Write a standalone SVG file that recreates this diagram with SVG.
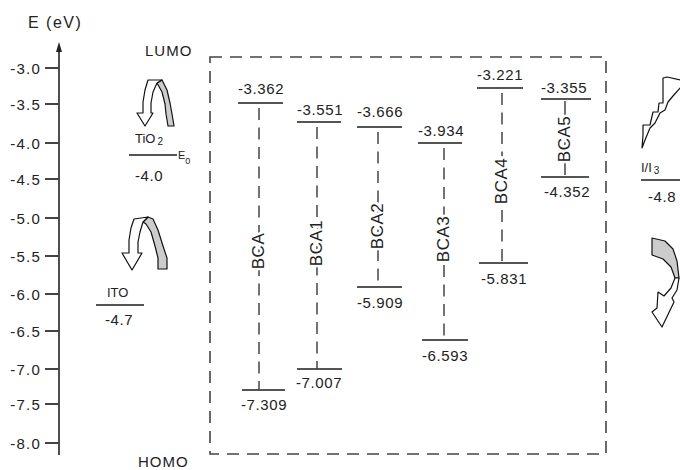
<svg xmlns="http://www.w3.org/2000/svg" width="680" height="470" viewBox="0 0 680 470">
<style>
  text { font-family: "Liberation Sans", Arial, sans-serif; fill: #222; }
  .ax { font-size: 15px; letter-spacing: 1.2px; text-anchor: end; }
  .num { font-size: 15px; letter-spacing: 0.6px; }
  .big { font-size: 15px; letter-spacing: 1px; }
  .lbl { font-size: 17px; letter-spacing: 0.5px; text-anchor: middle; dominant-baseline: central; stroke: #fff; stroke-width: 5px; paint-order: stroke; }
  .sm { font-size: 13px; }
  .tick { stroke: #444; stroke-width: 2; }
  .lvl { stroke: #555; stroke-width: 2; }
  .dv { stroke: #444; stroke-width: 1.5; stroke-dasharray: 12 7.5; fill: none; }
  .box { stroke: #444; stroke-width: 1.6; stroke-dasharray: 12 8; fill: none; }
  .wa { fill: #fff; stroke: #111; stroke-width: 1.2; stroke-linejoin: round; }
  .ga { fill: #ccc; stroke: #111; stroke-width: 1.2; stroke-linejoin: round; }
</style>

<g id="axis">
  <text x="28" y="28" style="font-size:16px;letter-spacing:1.5px">E (eV)</text>
  <line x1="59" y1="47" x2="59" y2="455" stroke="#222" stroke-width="1.6"/>
  <polygon points="59,42 56,52 62,52" fill="#222"/>
  <g class="tick">
    <line x1="45" y1="68" x2="59" y2="68"/>
    <line x1="45" y1="104" x2="59" y2="104"/>
    <line x1="45" y1="143" x2="59" y2="143"/>
    <line x1="45" y1="179" x2="59" y2="179"/>
    <line x1="45" y1="218" x2="59" y2="218"/>
    <line x1="45" y1="256" x2="59" y2="256"/>
    <line x1="45" y1="294" x2="59" y2="294"/>
    <line x1="45" y1="331" x2="59" y2="331"/>
    <line x1="45" y1="369" x2="59" y2="369"/>
    <line x1="45" y1="404" x2="59" y2="404"/>
    <line x1="45" y1="443" x2="59" y2="443"/>
  </g>
  <text class="ax" x="41" y="74">-3.0</text>
  <text class="ax" x="41" y="110">-3.5</text>
  <text class="ax" x="41" y="149">-4.0</text>
  <text class="ax" x="41" y="185">-4.5</text>
  <text class="ax" x="41" y="224">-5.0</text>
  <text class="ax" x="41" y="262">-5.5</text>
  <text class="ax" x="41" y="300">-6.0</text>
  <text class="ax" x="41" y="337">-6.5</text>
  <text class="ax" x="41" y="375">-7.0</text>
  <text class="ax" x="41" y="410">-7.5</text>
  <text class="ax" x="41" y="449">-8.0</text>
</g>

<g id="lumo"><text class="big" x="145" y="56">LUMO</text></g>
<g id="homo"><text class="big" x="138" y="467">HOMO</text></g>

<g id="tio2">
  <text class="sm" x="135" y="143">TiO<tspan font-size="10" dy="2" dx="2">2</tspan></text>
  <line class="lvl" x1="129" y1="155" x2="177" y2="155"/>
  <text x="178" y="159" font-size="11">E<tspan font-size="9" dy="5">0</tspan></text>
  <text class="num" x="135" y="181">-4.0</text>
</g>

<g id="ito">
  <text class="sm" x="107" y="297">ITO</text>
  <line class="lvl" x1="96" y1="305" x2="144" y2="305"/>
  <text class="num" x="105" y="325">-4.7</text>
</g>

<g id="redox">
  <text class="sm" x="641" y="172">I/I<tspan font-size="10" dy="2" dx="2">3</tspan></text>
  <line class="lvl" x1="641" y1="180" x2="680" y2="180"/>
  <text class="num" x="648" y="202">-4.8</text>
</g>

<g id="box">
  <rect class="box" x="210" y="57" width="396" height="397"/>
</g>

<g id="bca">
  <line class="lvl" x1="238" y1="103" x2="283" y2="103"/>
  <line class="lvl" x1="242" y1="390" x2="285" y2="390"/>
  <line class="dv" x1="259" y1="108" x2="259" y2="390"/>
  <text class="num" x="238" y="94">-3.362</text>
  <text class="num" x="241" y="410">-7.309</text>
  <text class="lbl" transform="translate(258,251) rotate(-90)">BCA</text>
</g>

<g id="bca1">
  <line class="lvl" x1="297" y1="122" x2="341" y2="122"/>
  <line class="lvl" x1="297" y1="369" x2="342" y2="369"/>
  <line class="dv" x1="317" y1="127" x2="317" y2="369"/>
  <text class="num" x="297" y="115">-3.551</text>
  <text class="num" x="296" y="388">-7.007</text>
  <text class="lbl" transform="translate(316,243) rotate(-90)">BCA1</text>
</g>

<g id="bca2">
  <line class="lvl" x1="357" y1="127" x2="402" y2="127"/>
  <line class="lvl" x1="357" y1="287" x2="402" y2="287"/>
  <line class="dv" x1="378" y1="132" x2="378" y2="287"/>
  <text class="num" x="357" y="117">-3.666</text>
  <text class="num" x="357" y="308">-5.909</text>
  <text class="lbl" transform="translate(377,226) rotate(-90)">BCA2</text>
</g>

<g id="bca3">
  <line class="lvl" x1="418" y1="143" x2="462" y2="143"/>
  <line class="lvl" x1="422" y1="340" x2="468" y2="340"/>
  <line class="dv" x1="444" y1="148" x2="444" y2="340"/>
  <text class="num" x="418" y="136">-3.934</text>
  <text class="num" x="422" y="361">-6.593</text>
  <text class="lbl" transform="translate(443,239) rotate(-90)">BCA3</text>
</g>

<g id="bca4">
  <line class="lvl" x1="477" y1="88" x2="523" y2="88"/>
  <line class="lvl" x1="479" y1="263" x2="528" y2="263"/>
  <line class="dv" x1="502" y1="93" x2="502" y2="263"/>
  <text class="num" x="477" y="80">-3.221</text>
  <text class="num" x="481" y="284">-5.831</text>
  <text class="lbl" transform="translate(501,181) rotate(-90)">BCA4</text>
</g>

<g id="bca5">
  <line class="lvl" x1="541" y1="99" x2="591" y2="99"/>
  <line class="lvl" x1="541" y1="177" x2="589" y2="177"/>
  <line x1="565" y1="101" x2="565" y2="175" stroke="#444" stroke-width="1.5"/>
  <text class="num" x="541" y="93">-3.355</text>
  <text class="num" x="544" y="197">-4.352</text>
  <text class="lbl" transform="translate(564,139) rotate(-90)">BCA5</text>
</g>

<g id="connectors">
  <polygon class="ga" points="157,83 162,80 167,90 170,103 172,114 174,126 168,126 166,114 165,104 162,92"/>
  <polygon class="wa" points="148,80 162,80 157,83 153,92 151,103 151,113 153,113 145,126 137,113 143,113 143,102 145,90"/>
  <polygon class="ga" points="143,222 148,217 153,219 158,230 163,246 167,258 167,269 158,269 158,258 155,246 151,232 146,224"/>
  <polygon class="wa" points="134,219 148,217 143,222 140,232 138,242 138,253 142,253 132,270 122,253 129,253 129,240 131,228"/>
  <polygon class="wa" points="642,148 643,135 643,125 650,125 653,112 658,112 659,103 663,103 663,90 663,78 667,77 681,80 681,87 673,96 668,102 665,110 660,113 655,123 650,128 645,140"/>
  <polygon class="ga" points="652,238 665,241 673,249 677,261 679,278 675,278 671,267 663,259 652,255"/>
  <polygon class="wa" points="675,278 679,278 677,290 672,298 674,302 662,327 652,312 657,308 658,292 664,296 671,288"/>
</g>
</svg>
